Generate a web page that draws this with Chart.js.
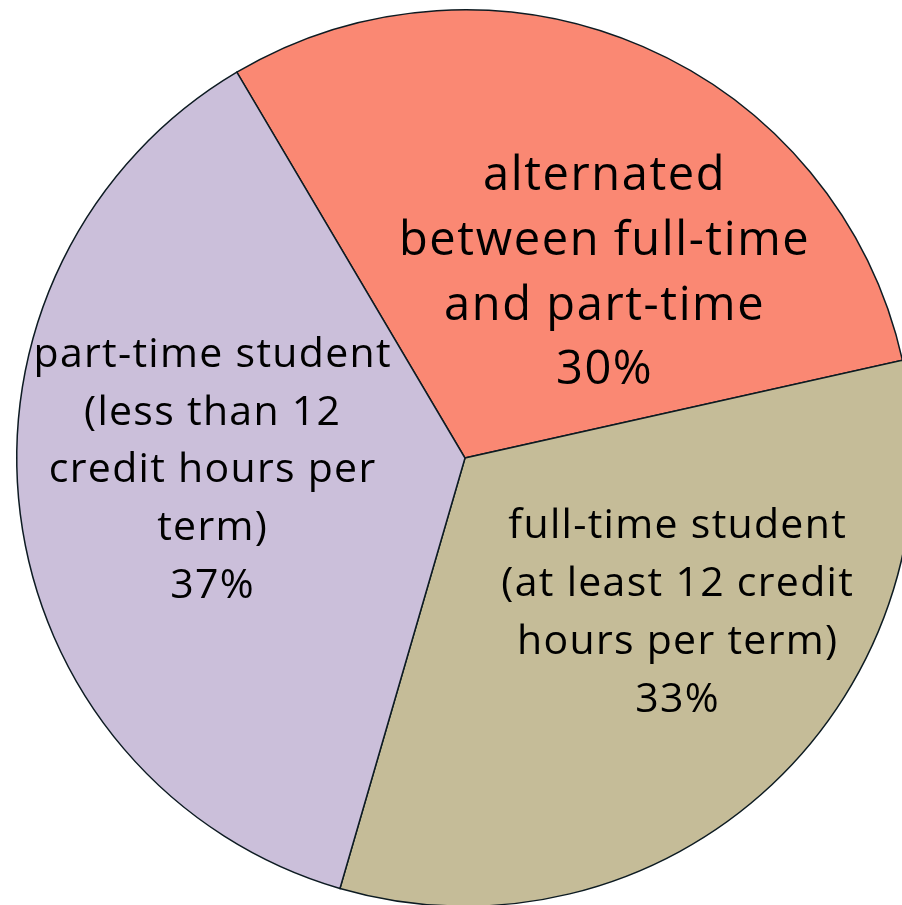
<!DOCTYPE html>
<html>
<head>
<meta charset="utf-8">
<script src="https://cdn.jsdelivr.net/npm/chart.js@4"></script>
<style>
  html, body { margin: 0; padding: 0; background: #ffffff; overflow: hidden; }
  #wrap { position: absolute; left: 0; top: 0; width: 930px; height: 916px; }
</style>
</head>
<body>
<div id="wrap"><canvas id="c" width="930" height="916"></canvas></div>
<script>
// ---- data ----
const categories = [
  "alternated between full-time and part-time",
  "full-time student (at least 12 credit hours per term)",
  "part-time student (less than 12 credit hours per term)"
];
const percentages = [30, 33, 37];
const labelLines = [
  ["alternated", "between full-time", "and part-time"],
  ["full-time student", "(at least 12 credit", "hours per term)"],
  ["part-time student", "(less than 12", "credit hours per", "term)"]
];

// ---- style ----
const colors = ["#FA8873", "#C5BC98", "#CBBFDA"];
const labelStyle = [
  { size: 47, spacing: 1.6, lineHeight: 64.7, frac: 0.491, angle: 39.1 },
  { size: 41, spacing: 1.3, lineHeight: 58, frac: 0.602, angle: 128.2 },
  { size: 41, spacing: 1.3, lineHeight: 57.7, frac: 0.567, angle: 264.5 }
];

const labelPlugin = {
  id: 'sliceLabels',
  afterDatasetsDraw(chart) {
    const ctx = chart.ctx;
    const meta = chart.getDatasetMeta(0);
    meta.data.forEach((arc, i) => {
      const st = labelStyle[i];
      const a = st.angle * Math.PI / 180;
      const cx = arc.x + Math.sin(a) * arc.outerRadius * st.frac;
      const cy = arc.y - Math.cos(a) * arc.outerRadius * st.frac;
      const lines = labelLines[i].concat([percentages[i] + "%"]);
      ctx.save();
      ctx.fillStyle = "#000000";
      ctx.textAlign = "left";
      ctx.textBaseline = "alphabetic";
      ctx.font = st.size + "px 'Open Sans'";
      ctx.letterSpacing = st.spacing + "px";
      const n = lines.length;
      lines.forEach((t, k) => {
        const w = ctx.measureText(t).width - st.spacing;
        ctx.fillText(t, cx - w / 2, cy + (k - (n - 1) / 2) * st.lineHeight);
      });
      ctx.restore();
    });
  }
};

new Chart(document.getElementById('c'), {
  type: 'pie',
  data: {
    labels: categories,
    datasets: [{
      data: percentages,
      backgroundColor: colors,
      borderColor: "#0d1b22",
      borderWidth: 1.5,
      borderJoinStyle: 'miter'
    }]
  },
  options: {
    responsive: false,
    animation: false,
    devicePixelRatio: 1,
    rotation: -30.6,
    layout: { padding: { top: 9, bottom: 9, left: 0, right: 0 } },
    plugins: { legend: { display: false }, tooltip: { enabled: false } }
  },
  plugins: [labelPlugin]
});
</script>
</body>
</html>
